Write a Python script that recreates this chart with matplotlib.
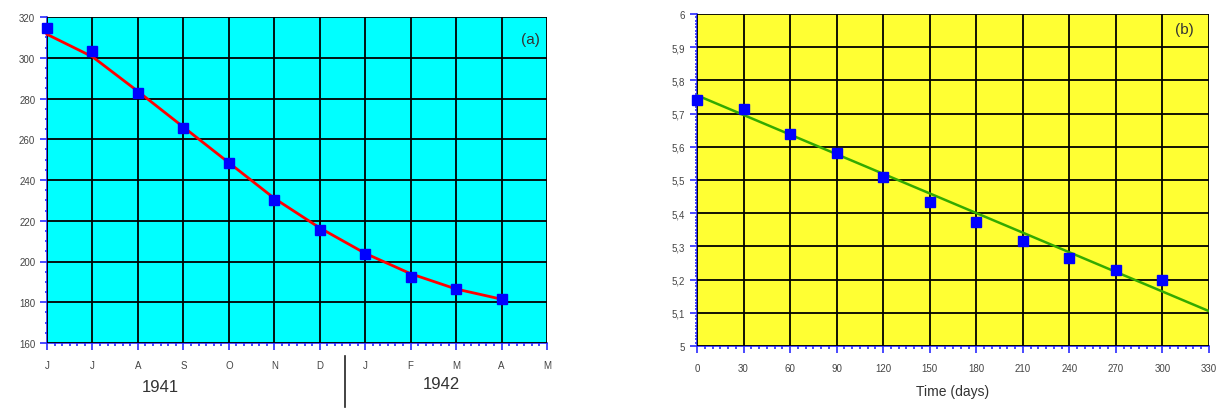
import matplotlib
matplotlib.use("Agg")
import matplotlib.pyplot as plt
import numpy as np
from matplotlib.ticker import AutoMinorLocator

plt.rcParams['font.family'] = ['Liberation Sans', 'DejaVu Sans']

# ---- data panel (a) ----
month_labels = ['J', 'J', 'A', 'S', 'O', 'N', 'D', 'J', 'F', 'M', 'A', 'M']
a_points = [314.5, 303.5, 282.5, 265.5, 248.5, 230, 215.5, 203.5, 192.5, 186.5, 181.5]
a_curve = [311.5, 300.5, 283.5, 266.0, 248.5, 231.0, 216.5, 204.0, 194.0, 186.5, 181.5]
a_yticks = [160, 180, 200, 220, 240, 260, 280, 300, 320]
years = ['1941', '1942']

# ---- data panel (b) ----
b_days = [0, 30, 60, 90, 120, 150, 180, 210, 240, 270, 300]
b_values = [5.74, 5.715, 5.64, 5.58, 5.51, 5.435, 5.375, 5.315, 5.265, 5.23, 5.20]
b_line_x = [0, 330]
b_line_y = [5.755, 5.105]
b_xticks = [0, 30, 60, 90, 120, 150, 180, 210, 240, 270, 300, 330]
b_yticks = [5.0, 5.1, 5.2, 5.3, 5.4, 5.5, 5.6, 5.7, 5.8, 5.9, 6.0]

W, H = 1223, 414
fig = plt.figure(figsize=(W / 100, H / 100), dpi=100)

def box(l, t, r, b):
    return [l / W, 1 - b / H, (r - l) / W, (b - t) / H]

axis_blue = '#2a2aff'
tick_col = '#444444'

def style(ax):
    for s in ['top', 'right']:
        ax.spines[s].set_visible(False)
    for s in ['left', 'bottom']:
        ax.spines[s].set_color(axis_blue)
        ax.spines[s].set_linewidth(1.2)
    ax.tick_params(which='major', direction='out', color=axis_blue, length=5, width=1.2,
                   labelsize=7, labelcolor=tick_col)
    ax.tick_params(which='minor', direction='out', color=axis_blue, length=2.5, width=1.2)
    ax.tick_params(axis='y', which='minor', length=1.5)
    ax.grid(True, which='major', color='black', linewidth=1.3)
    ax.set_axisbelow(False)
    for ln in ax.get_xgridlines() + ax.get_ygridlines():
        ln.set_zorder(1)

# Panel (a)
ax1 = fig.add_axes(box(47, 18, 547, 344))
ax1.set_facecolor('#00ffff')
xa = np.arange(len(a_points))
ax1.set_xlim(0, len(month_labels) - 1)
ax1.set_ylim(160, 320)
ax1.set_xticks(np.arange(len(month_labels)))
ax1.set_xticklabels(month_labels)
ax1.set_yticks(a_yticks)
ax1.xaxis.set_minor_locator(AutoMinorLocator(6))
ax1.yaxis.set_minor_locator(AutoMinorLocator(4))
style(ax1)
ax1.tick_params(axis='x', which='major', pad=7)
ax1.plot(xa, a_curve, color='red', linewidth=2, zorder=3, clip_on=False,
         solid_joinstyle='round')
ax1.plot(xa, a_points, 's', color='blue', markersize=7, zorder=4, clip_on=False)
ax1.text(0.985, 0.955, '(a)', transform=ax1.transAxes, ha='right', va='top',
         fontsize=11, color='#333333')

# year labels and separator
fig.text(160 / W, 1 - 388 / H, years[0], ha='center', va='center', fontsize=12, color='#333333')
fig.text(441 / W, 1 - 385 / H, years[1], ha='center', va='center', fontsize=12, color='#333333')
fig.add_artist(plt.Line2D([345 / W, 345 / W], [1 - 357 / H, 1 - 408 / H],
                          color='#222222', linewidth=1.2))

# Panel (b)
ax2 = fig.add_axes(box(697, 15, 1209, 347))
ax2.set_facecolor('#ffff33')
ax2.set_xlim(0, 330)
ax2.set_ylim(5.0, 6.0)
ax2.set_xticks(b_xticks)
ax2.set_yticks(b_yticks)
ax2.set_yticklabels([('%g' % v).replace('.', ',') for v in b_yticks])
ax2.xaxis.set_minor_locator(AutoMinorLocator(6))
ax2.yaxis.set_minor_locator(AutoMinorLocator(10))
style(ax2)
ax2.tick_params(axis='x', which='major', pad=7)
ax2.plot(b_line_x, b_line_y, color='#33aa00', linewidth=1.8, zorder=3)
ax2.plot(b_days, b_values, 's', color='blue', markersize=7, zorder=4, clip_on=False)
ax2.set_xlabel('Time (days)', fontsize=10, color='#333333', labelpad=8)
ax2.text(0.97, 0.975, '(b)', transform=ax2.transAxes, ha='right', va='top',
         fontsize=11, color='#333333')

fig.savefig('out.png', dpi=100)
